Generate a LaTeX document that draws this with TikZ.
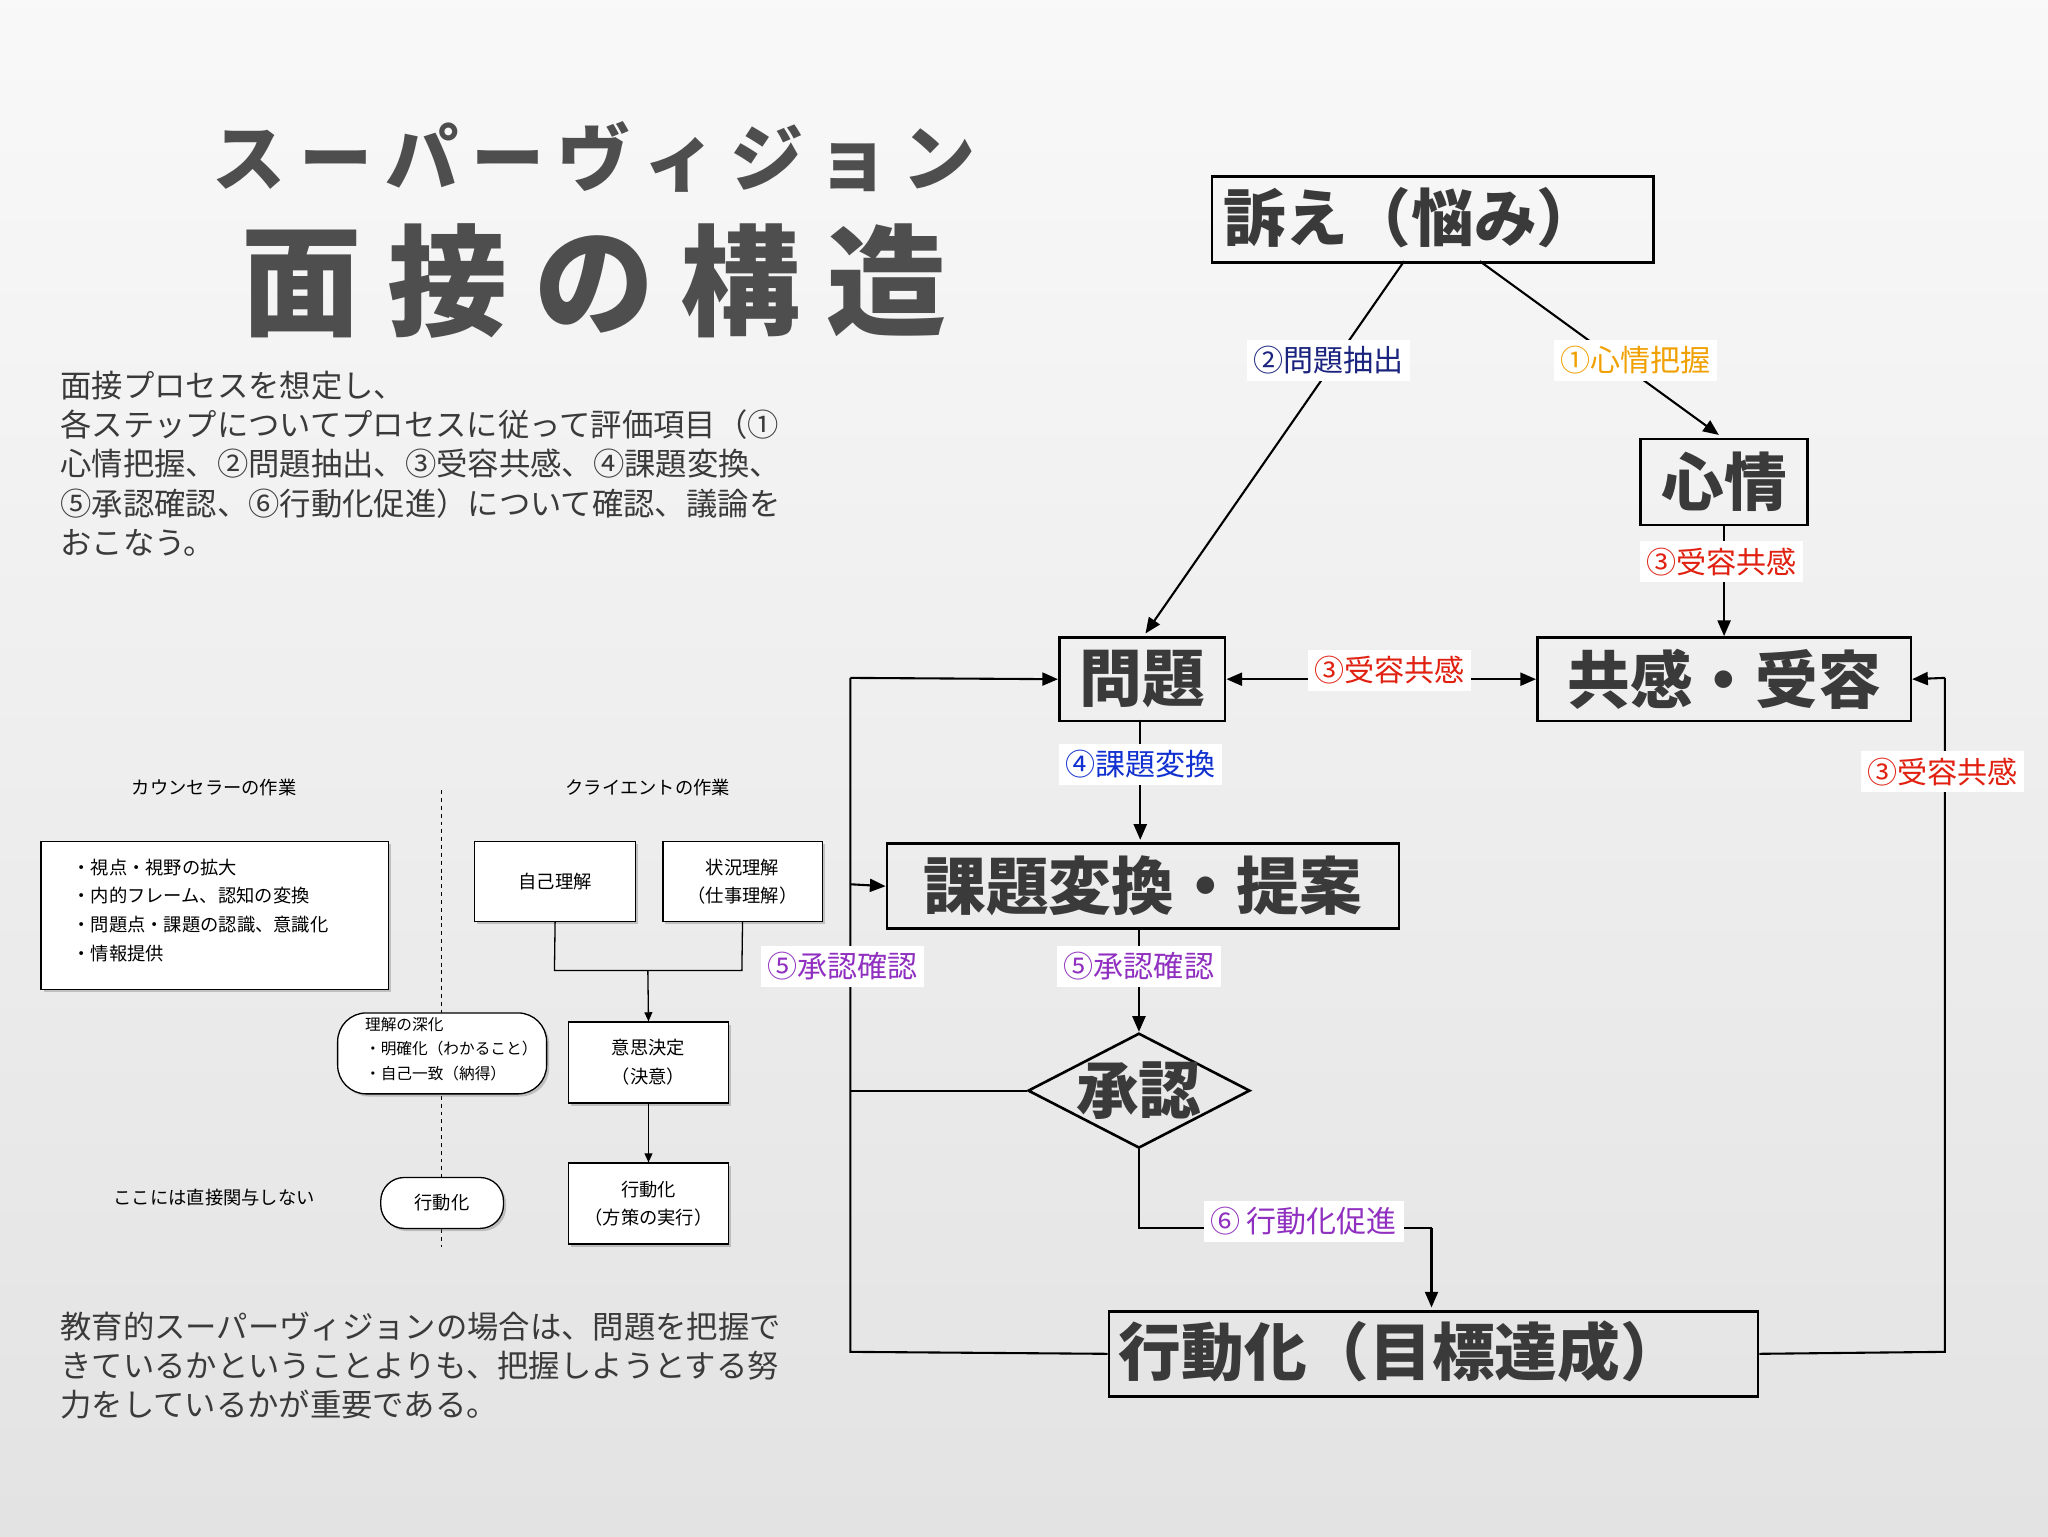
\documentclass[tikz,border=0pt]{standalone}
\usepackage{fontspec}
\setmainfont{Noto Sans CJK JP}
\usetikzlibrary{shapes.geometric,arrows.meta,shadows}
\definecolor{tx}{HTML}{3A3A3A}
\definecolor{lorange}{HTML}{F0A000}
\definecolor{lnavy}{HTML}{1A237E}
\definecolor{lred}{HTML}{E02010}
\definecolor{lblue}{HTML}{1030D0}
\definecolor{lpurple}{HTML}{9030C0}
\begin{document}
\begin{tikzpicture}[x=1pt,y=-1pt,
  big/.style={draw=black,line width=2pt,inner sep=0pt,anchor=north west},
  bt/.style={text=tx,font=\fontsize{48}{48}\selectfont\bfseries},
  lab/.style={fill=white,font=\fontsize{23}{23}\selectfont,inner sep=5pt},
  arr/.style={line width=1.6pt,-{Triangle[length=12pt,width=10pt]}},
  ln/.style={line width=1.6pt},
  sm/.style={font=\fontsize{14}{22}\selectfont,text=black},
  sbox/.style={draw=black,line width=1pt,fill=white,drop shadow={shadow xshift=2pt,shadow yshift=-2pt,opacity=.4}},
  para/.style={font=\fontsize{24}{30}\selectfont,text=tx,anchor=north west,align=left,inner sep=0pt}]
\shade[top color=gray!5,bottom color=gray!22] (0,0) rectangle (1568,1176);
\useasboundingbox (0,0) rectangle (1568,1176);
% title
\node[text=tx!90,font=\fontsize{56}{56}\selectfont\bfseries] (t1) at (455,120) {ス\hspace{10pt}ー\hspace{10pt}パ\hspace{10pt}ー\hspace{10pt}ヴ\hspace{10pt}ィ\hspace{10pt}ジ\hspace{10pt}ョ\hspace{10pt}ン};
\node[text=tx!90,font=\fontsize{92}{92}\selectfont\bfseries] (t2) at (455,215) {面\hspace{20pt}接\hspace{20pt}の\hspace{20pt}構\hspace{20pt}造};
\node[para] (p1) at (46,284) {面接プロセスを想定し、\\各ステップについてプロセスに従って評価項目（①\\心情把握、②問題抽出、③受容共感、④課題変換、\\⑤承認確認、⑥行動化促進）について確認、議論を\\おこなう。};
\node[para] (p2) at (46,1004) {教育的スーパーヴィジョンの場合は、問題を把握で\\きているかということよりも、把握しようとする努\\力をしているかが重要である。};
% main boxes
\node[big,minimum width=338,minimum height=66] (u) at (927,134) {};
\node[bt,anchor=west] at (933,167) {訴え（悩み）};
\node[big,minimum width=128,minimum height=66] (s) at (1255,335) {};
\node[bt] at (s.center) {心情};
\node[big,minimum width=127,minimum height=64] (m) at (810,487) {};
\node[bt] at (m.center) {問題};
\node[big,minimum width=286,minimum height=64] (k) at (1176,487) {};
\node[bt] at (k.center) {共感・受容};
\node[big,minimum width=392,minimum height=65] (ka) at (678,645) {};
\node[bt] at (ka.center) {課題変換・提案};
\node[draw=black,line width=2pt,diamond,aspect=1.93,minimum width=170,minimum height=88,inner sep=0pt] (sh) at (872,835) {};
\node[bt] at (sh.center) {承認};
\node[big,minimum width=497,minimum height=65] (g) at (848,1003) {};
\node[bt,anchor=west] at (853,1035) {行動化（目標達成）};
% arrows
\draw[arr] (1075,200) -- (877,485);
\node[lab,text=lnavy] at (1017,276) {②問題抽出};
\draw[arr] (1133,200) -- (1316,333);
\node[lab,text=lorange] at (1252,276) {①心情把握};
\draw[arr] (s.south) -- (k.north -| s.south);
\node[lab,text=lred] at (1318,430) {③受容共感};
\draw[line width=1.6pt,{Triangle[length=12pt,width=10pt]}-{Triangle[length=12pt,width=10pt]}] (m.east) -- (k.west);
\node[lab,text=lred] at (1064,513) {③受容共感};
\draw[arr] (873,551) -- (873,643);
\node[lab,text=lblue] at (873,585) {④課題変換};
\draw[arr] (872,710) -- (sh.north);
\node[lab,text=lpurple] at (872,740) {⑤承認確認};
\draw[ln] (sh.south) -- (872,940) -- (1096,940);
\draw[arr] (1096,940) -- (1096,1001);
\node[lab,text=lpurple] at (998,935) {⑥ 行動化促進};
\coordinate (c1) at (651,1035);
\draw[ln] (sh.west) -- (651,835);
\draw[ln] (g.west) -- (c1) -- (651,519);
\draw[arr] (651,519) -- (m.west);
\draw[arr] (651,677) -- (ka.west);
\node[lab,text=lpurple] at (645,740) {⑤承認確認};
\draw[ln] (g.east) -- (1489,1035) -- (1489,519);
\draw[arr] (1489,519) -- (k.east);
\node[lab,text=lred] at (1487,591) {③受容共感};
% left small diagram
\draw[dashed,line width=1pt] (338,605) -- (338,955);
\node[sm] (h1) at (164,603) {カウンセラーの作業};
\node[sm] (h2) at (496,603) {クライエントの作業};
\node[sbox,minimum width=266,minimum height=113,anchor=north west] (cb) at (31,644) {};
\node[sm,anchor=north west,align=left] at (52,654) {・視点・視野の拡大\\・内的フレーム、認知の変換\\・問題点・課題の認識、意識化\\・情報提供};
\node[sbox,minimum width=123,minimum height=61,anchor=north west,sm] (j1) at (363,644) {自己理解};
\node[sbox,minimum width=122,minimum height=61,anchor=north west,sm,align=center] (j2) at (507,644) {状況理解\\（仕事理解）};
\node[sbox,minimum width=122,minimum height=62,anchor=north west,sm,align=center] (ik) at (435,782) {意思決定\\（決意）};
\node[sbox,minimum width=122,minimum height=62,anchor=north west,sm,align=center] (ko) at (435,890) {行動化\\（方策の実行）};
\node[sbox,rounded corners=22pt,minimum width=160,minimum height=62,anchor=north west] (rk) at (258,775) {};
\node[sm,font=\fontsize{12}{19}\selectfont,anchor=north west,align=left] at (276,775) {理解の深化\\・明確化（わかること）\\・自己一致（納得）};
\node[sbox,rounded corners=18pt,minimum width=94,minimum height=39,anchor=north west,sm] (ko2) at (291,901) {行動化};
\node[sm] (nn) at (164,917) {ここには直接関与しない};
\draw[line width=1pt] (j1.south) -- (424.5,743) -- (568,743) -- (j2.south);
\draw[line width=1pt,-{Triangle[length=7pt,width=6pt]}] (496,743) -- (ik.north);
\draw[line width=1pt,-{Triangle[length=7pt,width=6pt]}] (ik.south) -- (ko.north);
\end{tikzpicture}
\end{document}
